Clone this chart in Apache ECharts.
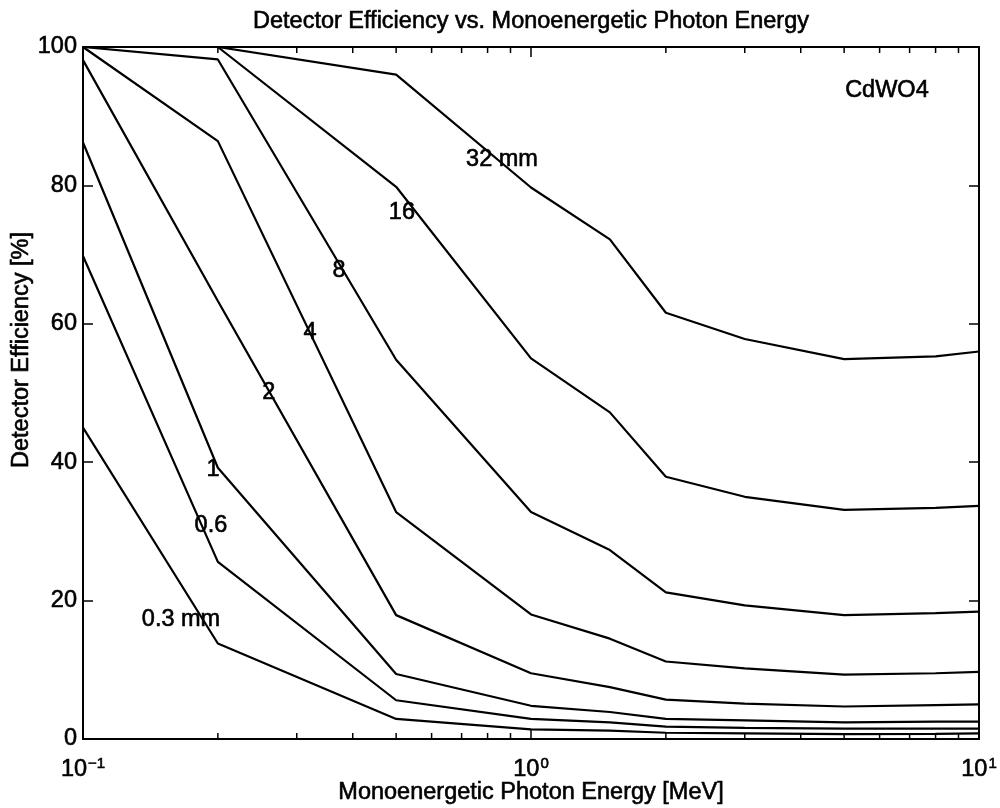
<!DOCTYPE html>
<html>
<head>
<meta charset="utf-8">
<script src="https://cdn.jsdelivr.net/npm/echarts@6/dist/echarts.min.js"></script>
<style>html,body{margin:0;padding:0;background:#fff}#chart{width:1000px;height:808px}</style>
</head>
<body>
<div id="chart"></div>
<script>
// Photon energies [MeV]
const energies = [0.1, 0.2, 0.5, 1, 1.5, 2, 3, 5, 8, 10];
// Detector efficiency [%] per crystal thickness
const eff_0_3mm = [45.0, 13.8, 2.9, 1.4, 1.2, 0.9, 0.8, 0.7, 0.75, 0.8];
const eff_0_6mm = [69.8, 25.6, 5.6, 2.9, 2.4, 1.8, 1.6, 1.5, 1.5, 1.5];
const eff_1mm   = [86.2, 39.2, 9.4, 4.8, 3.9, 2.9, 2.7, 2.4, 2.5, 2.5];
const eff_2mm   = [98.1, 63.3, 17.9, 9.5, 7.5, 5.7, 5.1, 4.7, 4.9, 5.0];
const eff_4mm   = [100, 86.4, 32.8, 18.0, 14.5, 11.2, 10.2, 9.3, 9.5, 9.7];
const eff_8mm   = [100, 98.2, 54.8, 32.8, 27.3, 21.2, 19.3, 17.9, 18.2, 18.4];
const eff_16mm  = [100, 100, 79.8, 55.0, 47.2, 37.9, 35.0, 33.1, 33.4, 33.7];
const eff_32mm  = [100, 100, 96.0, 79.7, 72.2, 61.6, 57.8, 54.9, 55.3, 56.0];

const seriesNames = ['0.3 mm', '0.6 mm', '1 mm', '2 mm', '4 mm', '8 mm', '16 mm', '32 mm'];
const seriesValues = [eff_0_3mm, eff_0_6mm, eff_1mm, eff_2mm, eff_4mm, eff_8mm, eff_16mm, eff_32mm];

// In-plot curve labels (text, energy, efficiency)
const curveLabelText = ['0.3 mm', '0.6', '1', '2', '4', '8', '16', '32 mm', 'CdWO4'];
const curveLabelE    = [0.1655, 0.193, 0.195, 0.260, 0.321, 0.3727, 0.515, 0.8616, 6.23];
const curveLabelEff  = [17.2, 30.8, 39.0, 50.0, 58.8, 67.7, 76.1, 83.8, 93.7];

// Axis ticks
const xMajorTicks = [0.1, 1, 10];
const xMinorTicks = [0.2, 0.3, 0.4, 0.5, 0.6, 0.7, 0.8, 0.9, 2, 3, 4, 5, 6, 7, 8, 9];
const yTicks = [0, 20, 40, 60, 80, 100];

const FONT = 'Liberation Sans, Arial, Helvetica, sans-serif';
const FS = 23.5;
const HEAVY = {textBorderColor: '#000', textBorderWidth: 0.6};

const chart = echarts.init(document.getElementById('chart'), null, {renderer: 'canvas'});

const lineSeries = seriesValues.map((vals, i) => ({
  name: seriesNames[i],
  type: 'line',
  xAxisIndex: 0, yAxisIndex: 0,
  showSymbol: false,
  symbol: 'none',
  lineStyle: {color: '#000', width: 2.2},
  data: energies.map((e, j) => [e, vals[j]]),
  z: 3
}));

const labelSeries = {
  type: 'scatter',
  xAxisIndex: 0, yAxisIndex: 0,
  symbolSize: 0,
  itemStyle: {opacity: 1, color: '#000'},
  data: curveLabelText.map((t, i) => [curveLabelE[i], curveLabelEff[i], t]),
  label: Object.assign({
    show: true, position: 'inside', color: '#000', opacity: 1,
    fontFamily: FONT, fontSize: FS,
    formatter: p => p.data[2]
  }, HEAVY),
  z: 5
};

const minorTickSeries = {
  type: 'custom',
  xAxisIndex: 0, yAxisIndex: 0,
  data: xMinorTicks.map(v => [v, 0]),
  renderItem: function (params, api) {
    const v = api.value(0);
    const pb = api.coord([v, 0]);
    const pt = api.coord([v, 100]);
    return {
      type: 'group',
      children: [
        {type: 'line', shape: {x1: pb[0], y1: pb[1], x2: pb[0], y2: pb[1] - 6}, style: {stroke: '#000', lineWidth: 1.5}},
        {type: 'line', shape: {x1: pt[0], y1: pt[1], x2: pt[0], y2: pt[1] + 6}, style: {stroke: '#000', lineWidth: 1.5}}
      ]
    };
  },
  z: 4,
  silent: true
};

function expLabel(v) {
  const e = Math.round(Math.log10(v));
  const s = e < 0 ? '\u2212' + (-e) : String(e);
  return '{b|10}{s|' + s + '}';
}

const option = {
  animation: false,
  backgroundColor: '#fff',
  grid: {left: 83, right: 21, top: 47, bottom: 69, containLabel: false, outerBoundsMode: 'none'},
  graphic: [{
    type: 'text',
    x: 531, y: 22,
    style: {text: 'Detector Efficiency vs. Monoenergetic Photon Energy', font: FS + 'px ' + FONT, fill: '#000', align: 'center', verticalAlign: 'middle', stroke: '#000', lineWidth: 0.6}
  }, {
    type: 'text',
    x: 22, y: 350, rotation: Math.PI / 2,
    style: {text: 'Detector Efficiency [%]', font: FS + 'px ' + FONT, fill: '#000', align: 'center', verticalAlign: 'middle', stroke: '#000', lineWidth: 0.6}
  }],
  xAxis: [{
    type: 'log', logBase: 10, min: 0.1, max: 10, position: 'bottom',
    name: 'Monoenergetic Photon Energy [MeV]', nameLocation: 'middle', nameGap: 42, nameMoveOverlap: false,
    nameTextStyle: Object.assign({fontFamily: FONT, fontSize: FS, color: '#000'}, HEAVY),
    axisLine: {show: true, onZero: false, lineStyle: {color: '#000', width: 2}},
    axisTick: {show: true, inside: true, length: 10, lineStyle: {color: '#000', width: 1.5}},
    splitLine: {show: false},
    axisLabel: {
      show: true, margin: 17, color: '#000',
      formatter: v => xMajorTicks.some(t => Math.abs(Math.log10(t) - Math.log10(v)) < 1e-6) ? expLabel(v) : '',
      rich: {
        b: Object.assign({fontFamily: FONT, fontSize: FS, color: '#000', verticalAlign: 'bottom'}, HEAVY),
        s: Object.assign({fontFamily: FONT, fontSize: 15, color: '#000', verticalAlign: 'bottom', padding: [0, 0, 11, 1]}, HEAVY)
      }
    }
  }, {
    type: 'log', logBase: 10, min: 0.1, max: 10, position: 'top',
    axisLine: {show: true, onZero: false, lineStyle: {color: '#000', width: 2}},
    axisTick: {show: true, inside: true, length: 10, lineStyle: {color: '#000', width: 1.5}},
    axisLabel: {show: false}, splitLine: {show: false}
  }],
  yAxis: [{
    type: 'value', min: 0, max: 100, interval: 20, position: 'left',
    axisLine: {show: true, onZero: false, lineStyle: {color: '#000', width: 2}},
    axisTick: {show: true, inside: true, length: 10, lineStyle: {color: '#000', width: 1.5}},
    axisLabel: Object.assign({show: true, margin: 6, color: '#000', fontFamily: FONT, fontSize: FS,
      formatter: v => yTicks.indexOf(v) >= 0 ? String(v) : ''}, HEAVY),
    splitLine: {show: false}
  }, {
    type: 'value', min: 0, max: 100, interval: 20, position: 'right',
    axisLine: {show: true, onZero: false, lineStyle: {color: '#000', width: 2}},
    axisTick: {show: true, inside: true, length: 10, lineStyle: {color: '#000', width: 1.5}},
    axisLabel: {show: false}, splitLine: {show: false}
  }],
  series: lineSeries.concat([labelSeries, minorTickSeries])
};

chart.setOption(option);
</script>
</body>
</html>
